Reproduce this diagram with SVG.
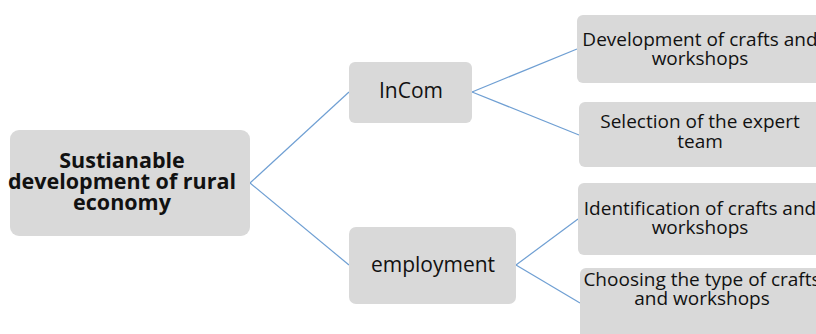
<svg xmlns="http://www.w3.org/2000/svg" width="816" height="334" viewBox="0 0 816 334">
<style>
.box{fill:#d9d9d9;stroke:none}
.t{font-family:"Open Sans","Liberation Sans",sans-serif;font-size:19px;fill:#111;text-anchor:middle}
.b{font-weight:bold;font-size:21.5px}
.m{font-size:21px}
.c{stroke:#6f9fd3;stroke-width:1.2;fill:none}
</style>
<rect width="816" height="334" fill="#ffffff"/>
<g id="connectors">
<line class="c" x1="250" y1="183" x2="349" y2="92"/>
<line class="c" x1="250" y1="183" x2="349" y2="265"/>
<line class="c" x1="472" y1="92" x2="577" y2="49"/>
<line class="c" x1="472" y1="92" x2="579" y2="135"/>
<line class="c" x1="516" y1="265" x2="578" y2="219"/>
<line class="c" x1="516" y1="265" x2="580" y2="303"/>
</g>
<g id="root">
<rect class="box" x="10" y="130" width="240" height="106" rx="9"/>
<text class="t b" x="122" y="168">Sustianable</text>
<text class="t b" x="122" y="189">development of rural</text>
<text class="t b" x="122" y="210">economy</text>
</g>
<g id="incom">
<rect class="box" x="349" y="62" width="123" height="61" rx="6"/>
<text class="t m" x="411" y="98">InCom</text>
</g>
<g id="employment">
<rect class="box" x="349" y="227" width="167" height="77" rx="7"/>
<text class="t m" x="433" y="272">employment</text>
</g>
<g id="n1">
<rect class="box" x="577" y="15" width="250" height="68" rx="6"/>
<text class="t" x="700" y="46">Development of crafts and</text>
<text class="t" x="700" y="65">workshops</text>
</g>
<g id="n2">
<rect class="box" x="579" y="102" width="250" height="65" rx="6"/>
<text class="t" x="700" y="128">Selection of the expert</text>
<text class="t" x="700" y="148">team</text>
</g>
<g id="n3">
<rect class="box" x="578" y="183" width="250" height="72" rx="6"/>
<text class="t" x="700" y="215">Identification of crafts and</text>
<text class="t" x="700" y="234">workshops</text>
</g>
<g id="n4">
<rect class="box" x="580" y="268" width="250" height="76" rx="6"/>
<text class="t" x="702" y="286">Choosing the type of crafts</text>
<text class="t" x="702" y="305">and workshops</text>
</g>
</svg>
